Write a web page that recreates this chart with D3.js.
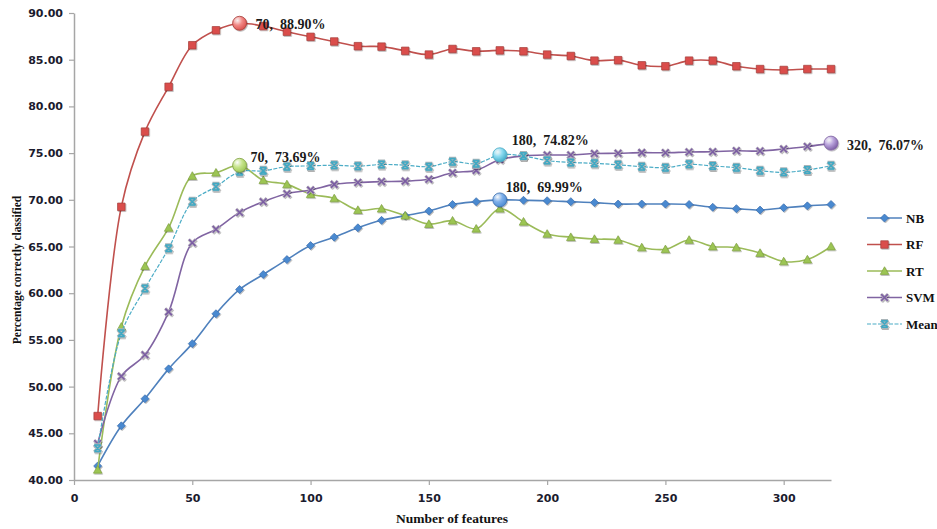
<!DOCTYPE html>
<html>
<head>
<meta charset="utf-8">
<script src="https://cdn.jsdelivr.net/npm/d3@7"></script>
<style>
  body { margin: 0; background: #fff; }
  svg { display: block; }
</style>
</head>
<body>
<svg id="chart" width="937" height="529"></svg>
<script>
// number of features (x categories)
const features = [10, 20, 30, 40, 50, 60, 70, 80, 90, 100, 110, 120, 130, 140, 150, 160,
  170, 180, 190, 200, 210, 220, 230, 240, 250, 260, 270, 280, 290, 300, 310, 320];

const nbValues = [41.5, 45.8, 48.7, 51.9, 54.6, 57.8, 60.4, 62.0, 63.6, 65.1, 66.0, 67.0, 67.8, 68.3, 68.8, 69.5,
  69.8, 69.99, 69.95, 69.9, 69.8, 69.7, 69.55, 69.55, 69.55, 69.5, 69.2, 69.05, 68.9, 69.15, 69.35, 69.5];
const rfValues = [46.85, 69.25, 77.3, 82.1, 86.55, 88.15, 88.90, 88.6, 88.0, 87.45, 86.95, 86.45, 86.4, 85.95, 85.55, 86.15,
  85.9, 86.0, 85.9, 85.55, 85.4, 84.9, 84.95, 84.4, 84.3, 84.9, 84.9, 84.3, 84.0, 83.9, 84.0, 84.0];
const rtValues = [41.1, 56.4, 62.9, 67.0, 72.55, 72.9, 73.69, 72.1, 71.65, 70.6, 70.15, 68.9, 69.05, 68.3, 67.4, 67.76,
  66.9, 69.05, 67.65, 66.35, 66.0, 65.8, 65.7, 64.9, 64.7, 65.7, 65.0, 64.9, 64.3, 63.4, 63.6, 65.0];
const svmValues = [43.9, 51.1, 53.4, 58.0, 65.4, 66.85, 68.65, 69.8, 70.65, 71.05, 71.65, 71.85, 71.95, 72.0, 72.2, 72.9,
  73.15, 74.3, 74.7, 74.8, 74.8, 74.95, 74.98, 75.05, 75.04, 75.12, 75.15, 75.25, 75.22, 75.44, 75.7, 76.07];
const meanValues = [43.4, 55.7, 60.5, 64.8, 69.8, 71.4, 73.0, 73.1, 73.55, 73.63, 73.7, 73.6, 73.78, 73.7, 73.55, 74.08,
  73.87, 74.82, 74.7, 74.2, 74.0, 73.9, 73.75, 73.55, 73.44, 73.8, 73.62, 73.44, 73.12, 72.94, 73.19, 73.65];

const seriesNames = ["NB", "RF", "RT", "SVM", "Mean"];
const xTicks = [0, 50, 100, 150, 200, 250, 300];
const yTicks = [40, 45, 50, 55, 60, 65, 70, 75, 80, 85, 90];

// highlighted points and their labels
const highlightSeries = ["RF", "RT", "Mean", "NB", "SVM"];
const highlightX = [70, 70, 180, 180, 320];
const highlightLabels = ["70,  88.90%", "70,  73.69%", "180,  74.82%", "180,  69.99%", "320,  76.07%"];

const valuesByName = { NB: nbValues, RF: rfValues, RT: rtValues, SVM: svmValues, Mean: meanValues };

const style = {
  NB:   { color: "#4F81BD", fill: "#4A89D0", stroke: "#3C6FAE", marker: "diamond", light: "#7FB0EA" },
  RF:   { color: "#C0504D", fill: "#DA4E4B", stroke: "#A33C39", marker: "square",  light: "#F28A87" },
  RT:   { color: "#9BBB59", fill: "#9CC553", stroke: "#7FA042", marker: "triangle", light: "#C6E48A" },
  SVM:  { color: "#8064A2", fill: "#7A5BA3", stroke: "#B3ABBA", marker: "x",        light: "#B9A3DC" },
  Mean: { color: "#4BACC6", fill: "#3FA9C4", stroke: "#A9B5B9", marker: "star",     light: "#8ADAF0" }
};
// label offsets from the highlighted point
const labelOffset = { RF: [16, 1], RT: [11, -8], Mean: [12, -15], NB: [6, -13], SVM: [16, 2] };

const margin = { top: 13, right: 106, bottom: 49, left: 74 };
const svg = d3.select("#chart");
const width = 937 - margin.left - margin.right;
const height = 529 - margin.top - margin.bottom;

const defs = svg.append("defs");
defs.append("filter").attr("id", "shadow")
  .attr("x", "-50%").attr("y", "-50%").attr("width", "200%").attr("height", "200%")
  .append("feDropShadow")
  .attr("dx", 0.8).attr("dy", 1).attr("stdDeviation", 0.7)
  .attr("flood-color", "#000").attr("flood-opacity", 0.3);

seriesNames.forEach(name => {
  const gr = defs.append("radialGradient").attr("id", "grad-" + name)
    .attr("cx", "35%").attr("cy", "30%").attr("r", "75%");
  gr.append("stop").attr("offset", "0%").attr("stop-color", "#fff").attr("stop-opacity", 0.9);
  gr.append("stop").attr("offset", "45%").attr("stop-color", style[name].light);
  gr.append("stop").attr("offset", "100%").attr("stop-color", style[name].fill);
});

const g = svg.append("g").attr("transform", `translate(${margin.left},${margin.top})`);

const x = d3.scaleLinear().domain([0, 320]).range([0, width]);
const y = d3.scaleLinear().domain([40, 90]).range([height, 0]);

// axes
const xAxis = g.append("g")
  .attr("transform", `translate(0,${height})`)
  .call(d3.axisBottom(x).tickValues(xTicks).tickFormat(d3.format("d")).tickSize(5).tickSizeOuter(0).tickPadding(9));
const yAxis = g.append("g")
  .call(d3.axisLeft(y).tickValues(yTicks).tickFormat(d3.format(".2f")).tickSize(5).tickSizeOuter(0).tickPadding(6));

[xAxis, yAxis].forEach(a => {
  a.select(".domain").attr("stroke", "#A6A6A6").attr("stroke-width", 1.5);
  a.selectAll(".tick line").attr("stroke", "#A6A6A6").attr("stroke-width", 1.2);
  a.selectAll(".tick text")
    .attr("fill", "#1b1b2e")
    .style("font-family", "'DejaVu Sans', sans-serif")
    .style("font-weight", "bold")
    .style("font-size", "11px");
});

// axis titles
svg.append("text")
  .attr("x", 452).attr("y", 523)
  .attr("text-anchor", "middle")
  .style("font-family", "'Liberation Serif', serif")
  .style("font-weight", "bold")
  .style("font-size", "13.5px")
  .attr("fill", "#111")
  .text("Number of features");

svg.append("text")
  .attr("transform", "translate(21,270) rotate(-90)")
  .attr("text-anchor", "middle")
  .style("font-family", "'Liberation Serif', serif")
  .style("font-weight", "bold")
  .style("font-size", "11.5px")
  .attr("fill", "#111")
  .text("Percentage correctly classified");

function markerPath(type, s) {
  const h = s / 2;
  if (type === "diamond") return `M0,${-h}L${h},0L0,${h}L${-h},0Z`;
  if (type === "square") return `M${-h},${-h}H${h}V${h}H${-h}Z`;
  if (type === "triangle") return `M0,${-h}L${h},${h * 0.8}L${-h},${h * 0.8}Z`;
  if (type === "x") return `M${-h},${-h}L${h},${h}M${-h},${h}L${h},${-h}`;
  return `M${-h},${-h}L${h},${h}M${-h},${h}L${h},${-h}M${-h},${-h}H${h}M${-h},${h}H${h}`;
}

function drawMarker(sel, st) {
  if (st.marker === "x" || st.marker === "star") {
    sel.append("path").attr("d", markerPath(st.marker, 7))
      .attr("stroke", st.stroke).attr("stroke-width", 3).attr("fill", "none");
    sel.append("path").attr("d", markerPath(st.marker, 6.5))
      .attr("stroke", st.fill).attr("stroke-width", 1.5).attr("fill", "none");
  } else {
    const size = st.marker === "square" ? 7.5 : st.marker === "triangle" ? 8.5 : 8;
    sel.append("path").attr("d", markerPath(st.marker, size))
      .attr("fill", st.fill).attr("stroke", st.stroke).attr("stroke-width", 0.7);
  }
}

const line = d3.line()
  .x(d => x(d.x))
  .y(d => y(d.v))
  .curve(d3.curveCatmullRom.alpha(0.5));

seriesNames.forEach(name => {
  const st = style[name];
  const pts = features.map((f, i) => ({ x: f, v: valuesByName[name][i] }));
  const sg = g.append("g").attr("class", "series-" + name);

  sg.append("path")
    .datum(pts)
    .attr("fill", "none")
    .attr("stroke", st.color)
    .attr("stroke-width", name === "Mean" ? 1.2 : 1.6)
    .attr("stroke-dasharray", name === "Mean" ? "4,1.5" : null)
    .attr("d", line);

  const marks = sg.selectAll(".mk").data(pts).enter().append("g")
    .attr("class", "mk")
    .attr("transform", d => `translate(${x(d.x)},${y(d.v)})`)
    .attr("filter", "url(#shadow)");
  drawMarker(marks, st);
});

// highlighted points
highlightSeries.forEach((name, i) => {
  const idx = features.indexOf(highlightX[i]);
  const v = valuesByName[name][idx];
  const cx = x(highlightX[i]), cy = y(v);
  g.append("circle")
    .attr("cx", cx).attr("cy", cy).attr("r", 7)
    .attr("fill", `url(#grad-${name})`)
    .attr("stroke", style[name].stroke === "#B3ABBA" || style[name].stroke === "#A9B5B9" ? style[name].color : style[name].stroke)
    .attr("stroke-width", 0.8)
    .attr("filter", "url(#shadow)");
  g.append("text")
    .attr("x", cx + labelOffset[name][0])
    .attr("y", cy + labelOffset[name][1])
    .attr("dy", "0.35em")
    .style("font-family", "'Liberation Serif', serif")
    .style("font-weight", "bold")
    .style("font-size", "14px")
    .style("white-space", "pre")
    .attr("fill", "#1a1a1a")
    .text(highlightLabels[i]);
});

// legend
const legend = svg.append("g").attr("transform", "translate(867,218)");
seriesNames.forEach((name, i) => {
  const st = style[name];
  const row = legend.append("g").attr("transform", `translate(0,${i * 26.5})`);
  row.append("line")
    .attr("x1", 0).attr("x2", 35).attr("y1", 0).attr("y2", 0)
    .attr("stroke", st.color)
    .attr("stroke-width", name === "Mean" ? 1.2 : 1.6)
    .attr("stroke-dasharray", name === "Mean" ? "4,1.5" : null);
  const m = row.append("g").attr("transform", "translate(17.5,0)").attr("filter", "url(#shadow)");
  drawMarker(m, st);
  row.append("text")
    .attr("x", 39).attr("y", 0).attr("dy", "0.35em")
    .style("font-family", "'Liberation Serif', serif")
    .style("font-weight", "bold")
    .style("font-size", "13px")
    .attr("fill", "#111")
    .text(name);
});
</script>
</body>
</html>
